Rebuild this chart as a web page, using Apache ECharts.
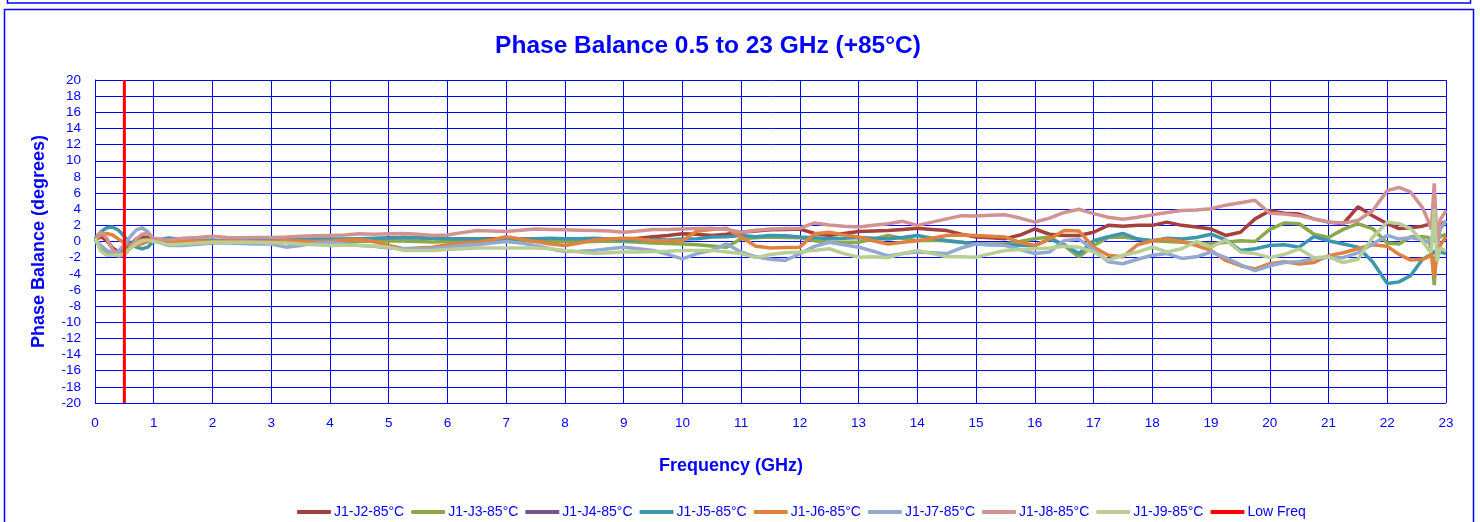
<!DOCTYPE html>
<html>
<head>
<meta charset="utf-8">
<style>
	html, body { margin: 0; padding: 0; background: #fff; }
	#phasebalance { width: 1480px; height: 522px; }
</style>
<script src="https://cdn.jsdelivr.net/npm/echarts@6/dist/echarts.min.js"></script>
</head>
<body>
<div id="phasebalance"></div>
<script>
// frequency points (GHz), shared by every trace
const freq = [0,0.1,0.2,0.3,0.4,0.5,0.6,0.7,0.8,0.9,1.0,
	1.25,1.5,1.75,2,2.25,2.5,2.75,3,3.25,3.5,3.75,4,4.25,4.5,4.75,5,
	5.25,5.5,5.75,6,6.25,6.5,6.75,7,7.25,7.5,7.75,8,8.25,8.5,8.75,9,
	9.25,9.5,9.75,10,10.25,10.5,10.75,11,11.25,11.5,11.75,12,12.25,12.5,12.75,13,
	13.25,13.5,13.75,14,14.25,14.5,14.75,15,15.25,15.5,15.75,16,16.25,16.5,16.75,17,
	17.25,17.5,17.75,18,18.25,18.5,18.75,19,19.25,19.5,19.75,20,20.25,20.5,20.75,21,
	21.25,21.5,21.75,22,22.2,22.4,22.6,22.7,22.75,22.8,22.85,22.9,23];

// phase balance (degrees) per port pair
const j2 = [0.2,0.6,0.1,-0.8,-1.3,-1.1,-0.4,0.3,0.6,0.5,0.2,
	0.1,0.05,0.1,0.1,0.05,0.1,0.1,0.1,0.15,0.15,0.2,0.2,0.25,0.3,0.35,0.45,
	0.5,0.45,0.4,0.35,0.35,0.3,0.35,0.3,0.35,0.3,0.3,0.3,0.35,0.3,0.25,0.3,
	0.4,0.6,0.75,0.95,0.9,0.75,0.9,1.15,1.3,1.45,1.5,1.55,1.0,0.75,1.0,1.25,
	1.3,1.35,1.5,1.65,1.5,1.35,0.9,0.55,0.45,0.35,0.8,1.55,0.9,0.75,0.75,1.15,
	2.0,1.9,2.0,2.0,2.4,2.0,1.8,1.55,0.75,1.15,2.8,3.8,3.5,3.4,2.8,2.4,
	2.2,4.3,3.2,2.2,1.6,1.7,1.9,2.1,2.0,2.4,1.8,2.2,2.4];
const j3 = [0.3,-0.9,-1.5,-1.6,-1.5,-1.2,-0.7,-0.2,0.1,0.2,0.0,
	0.0,0.0,0.05,0.0,0.0,-0.05,0.0,0.0,0.05,0.0,0.0,0.05,0.0,0.05,0.0,0.05,
	0.05,0.0,-0.05,0.0,0.05,0.0,0.05,0.05,0.1,0.05,0.0,0.0,-0.05,0.0,0.05,0.0,
	-0.1,-0.2,-0.25,-0.3,-0.4,-0.55,-0.7,0.35,0.45,0.55,0.5,0.45,0.1,-0.1,-0.1,-0.1,
	0.3,0.75,0.4,0.1,0.15,0.1,-0.1,-0.3,-0.3,-0.3,0.0,0.35,0.55,-0.5,-1.9,-0.5,
	0.5,0.55,0.3,0.1,0.0,-0.1,-0.2,-0.3,-0.1,0.1,0.0,1.5,2.3,2.2,0.9,0.5,
	1.5,2.2,1.6,-0.2,-0.3,0.6,0.6,0.5,-1.0,-5.4,0.3,0.6,0.9];
const j4 = [];
const j5 = [0.4,1.2,1.7,1.8,1.4,0.6,-0.2,-0.7,-0.9,-0.7,0.1,
	0.45,0.25,0.2,0.15,0.1,0.1,0.15,0.1,0.2,0.25,0.3,0.3,0.3,0.35,0.4,0.4,
	0.5,0.45,0.4,0.35,0.3,0.3,0.25,0.25,0.3,0.35,0.4,0.35,0.35,0.4,0.3,0.2,
	0.2,0.25,0.2,0.3,0.35,0.55,0.6,0.75,0.6,0.75,0.7,0.55,0.45,0.35,0.4,0.5,
	0.4,0.3,0.5,0.75,0.4,0.1,-0.1,-0.3,-0.4,-0.4,-0.45,-0.5,0.3,-0.4,-1.5,0.1,
	0.6,1.0,0.3,0.1,0.4,0.3,0.5,0.9,0.2,-1.1,-0.9,-0.5,-0.4,-0.7,0.6,0.1,
	-0.3,-0.7,-2.5,-5.2,-5.0,-4.2,-2.2,-1.8,-1.6,-1.2,-1.6,-1.3,-1.5];
const j6 = [0.2,0.8,1.0,0.8,0.3,-0.2,-0.5,-0.5,-0.3,0.0,0.1,
	0.1,0.0,0.05,0.0,0.05,0.0,-0.05,0.0,0.1,0.05,0.0,0.05,0.15,0.25,0.0,-0.5,
	-0.9,-0.8,-0.7,-0.4,-0.2,-0.1,0.2,0.6,0.3,0.0,-0.3,-0.5,-0.2,0.2,0.3,0.4,
	0.3,0.1,0.1,0.1,1.3,1.5,1.65,0.55,-0.6,-0.8,-0.75,-0.7,0.95,1.15,0.8,0.55,
	0.1,-0.3,-0.1,0.1,0.4,0.75,0.8,0.75,0.65,0.55,-0.1,-0.5,0.3,1.35,1.3,-0.7,
	-1.7,-1.9,-0.4,0.1,0.3,0.0,-0.5,-1.1,-2.35,-3.0,-3.4,-2.75,-2.5,-2.8,-2.6,-1.75,
	-1.4,-0.9,-0.4,-0.6,-1.6,-2.3,-2.2,-1.9,-1.5,-4.3,-1.5,-0.5,0.6];
const j7 = [0.3,-0.5,-1.1,-1.4,-1.2,-0.4,0.6,1.4,1.7,1.2,0.2,
	-0.5,-0.5,-0.35,-0.2,-0.2,-0.25,-0.3,-0.3,-0.7,-0.5,-0.2,-0.1,-0.3,-0.5,-0.6,-0.8,
	-0.9,-0.9,-0.9,-0.7,-0.5,-0.4,-0.2,0.0,-0.2,-0.5,-0.9,-1.25,-1.2,-1.1,-0.9,-0.7,
	-0.9,-1.1,-1.6,-2.15,-1.5,-1.1,-0.3,-1.3,-1.9,-2.2,-2.35,-1.5,-0.6,-0.1,-0.4,-0.7,
	-1.2,-1.8,-1.5,-1.3,-1.4,-1.5,-0.8,-0.3,-0.4,-0.5,-1.0,-1.5,-1.3,0.1,0.3,-1.0,
	-2.5,-2.75,-2.2,-1.7,-1.5,-2.1,-1.9,-1.3,-2.0,-2.9,-3.6,-3.0,-2.6,-2.5,-2.1,-1.95,
	-2.0,-1.4,-0.3,0.75,0.3,0.5,0.2,-0.1,0.4,1.0,-0.5,1.5,2.6];
const j8 = [0.3,1.2,0.4,-1.0,-1.8,-1.7,-0.8,0.3,0.9,1.0,0.4,
	0.2,0.4,0.5,0.65,0.5,0.45,0.5,0.5,0.55,0.65,0.7,0.75,0.8,0.95,0.9,0.95,
	1.0,0.9,0.75,0.8,1.1,1.35,1.3,1.25,1.4,1.55,1.5,1.45,1.4,1.35,1.3,1.15,
	1.3,1.5,1.5,1.55,1.6,1.65,1.5,1.15,1.4,1.55,1.6,1.65,2.3,2.05,1.9,1.8,
	2.0,2.2,2.5,2.0,2.4,2.8,3.2,3.15,3.25,3.3,2.9,2.4,2.9,3.6,4.0,3.45,
	3.0,2.75,3.0,3.3,3.6,3.85,3.9,4.05,4.5,4.8,5.1,3.5,3.4,3.2,2.8,2.4,
	2.3,2.6,3.8,6.3,6.7,6.1,4.2,2.5,1.5,7.2,-0.5,2.7,3.8];
const j9 = [0.4,-1.2,-1.7,-1.7,-1.7,-1.5,-0.9,-0.3,0.1,0.2,0.0,
	-0.4,-0.3,-0.2,-0.1,-0.1,-0.1,-0.1,-0.15,-0.2,-0.3,-0.4,-0.5,-0.45,-0.45,-0.55,-0.7,
	-1.1,-1.1,-1.1,-1.0,-0.9,-0.8,-0.8,-0.8,-0.8,-0.8,-0.9,-1.1,-1.3,-1.5,-1.4,-1.3,
	-1.3,-1.25,-1.2,-1.1,-1.1,-1.1,-1.3,-1.5,-2.0,-1.6,-1.4,-1.3,-1.1,-0.9,-1.5,-1.95,
	-1.9,-2.0,-1.5,-1.1,-1.5,-1.9,-1.9,-1.95,-1.5,-1.1,-1.0,-0.9,-0.8,-0.6,-0.7,-1.3,
	-2.3,-1.7,-1.3,-0.7,-1.3,-0.9,0.0,-0.7,0.2,-1.3,-1.5,-2.0,-1.6,-0.9,-2.0,-1.9,
	-2.6,-2.2,0.5,2.4,2.2,1.6,0.0,-1.0,-1.3,4.0,-2.5,-0.8,-1.2];

const names = ['J1-J2-85°C','J1-J3-85°C','J1-J4-85°C','J1-J5-85°C','J1-J6-85°C','J1-J7-85°C','J1-J8-85°C','J1-J9-85°C'];
const traces = [j2, j3, j4, j5, j6, j7, j8, j9];
// low frequency limit marker (GHz)
const lowFreq = 0.5;
const yRange = [-20, 20];

const blue = '#0000ff';
const font = '"Liberation Sans", Arial, sans-serif';
const colors = ['#a5403d','#8ba94a','#71558f','#3c96ad','#e0823d','#93a9cf','#d09392','#b9cd96'];

let series = traces.map(function (t, k) {
	return {
		name: names[k],
		type: 'line',
		symbol: 'none',
		smooth: false,
		color: colors[k],
		lineStyle: { width: 3.5, color: colors[k] },
		data: t.map(function (v, i) { return [freq[i], v]; })
	};
});
series.push({
	name: 'Low Freq',
	type: 'line',
	symbol: 'none',
	color: '#ff0000',
	lineStyle: { width: 3, color: '#ff0000' },
	data: [[lowFreq, yRange[0]], [lowFreq, yRange[1]]]
});

let chart = echarts.init(document.getElementById('phasebalance'));
let option = {
	animation: false,
	backgroundColor: '#fff',
	title: {
		text: 'Phase Balance 0.5 to 23 GHz (+85°C)',
		left: 703,
		top: 29,
		textAlign: 'center',
		textStyle: { fontFamily: font, fontSize: 24.5, fontWeight: 'bold', color: blue }
	},
	grid: { left: 95, right: 34, top: 80, bottom: 119 },
	legend: {
		left: 292,
		top: 500,
		icon: 'roundRect',
		itemWidth: 34,
		itemHeight: 4,
		itemGap: 7,
		textStyle: { fontFamily: font, fontSize: 14, color: blue, padding: [0, 0, 0, -2] },
		data: names.concat(['Low Freq'])
	},
	xAxis: {
		type: 'value',
		min: 0,
		max: 23,
		interval: 1,
		axisLine: { show: true, lineStyle: { color: blue, width: 1 } },
		axisTick: { show: false },
		splitLine: { show: true, lineStyle: { color: blue, width: 1 } },
		axisLabel: { margin: 13, fontFamily: font, fontSize: 13.5, color: blue }
	},
	yAxis: {
		type: 'value',
		min: yRange[0],
		max: yRange[1],
		interval: 2,
		name: 'Phase Balance (degrees)',
		nameLocation: 'middle',
		nameGap: 47,
		nameTextStyle: { fontFamily: font, fontSize: 18, fontWeight: 'bold', color: blue },
		axisLine: { show: true, lineStyle: { color: blue, width: 1 } },
		axisTick: { show: false },
		splitLine: { show: true, lineStyle: { color: blue, width: 1 } },
		axisLabel: { margin: 14, fontFamily: font, fontSize: 13.5, color: blue }
	},
	graphic: [
		{ type: 'rect', shape: { x: 4.5, y: 9.5, width: 1469, height: 530 }, style: { fill: null, stroke: blue, lineWidth: 1.5 }, silent: true },
		{ type: 'rect', shape: { x: 7.5, y: -20, width: 1463, height: 23 }, style: { fill: null, stroke: blue, lineWidth: 1.5 }, silent: true },
		{
			type: 'text', left: 659, top: 457,
			style: { text: 'Frequency (GHz)', fill: blue, font: 'bold 18px ' + font }
		}
	],
	series: series
};
chart.setOption(option);
</script>
</body>
</html>
